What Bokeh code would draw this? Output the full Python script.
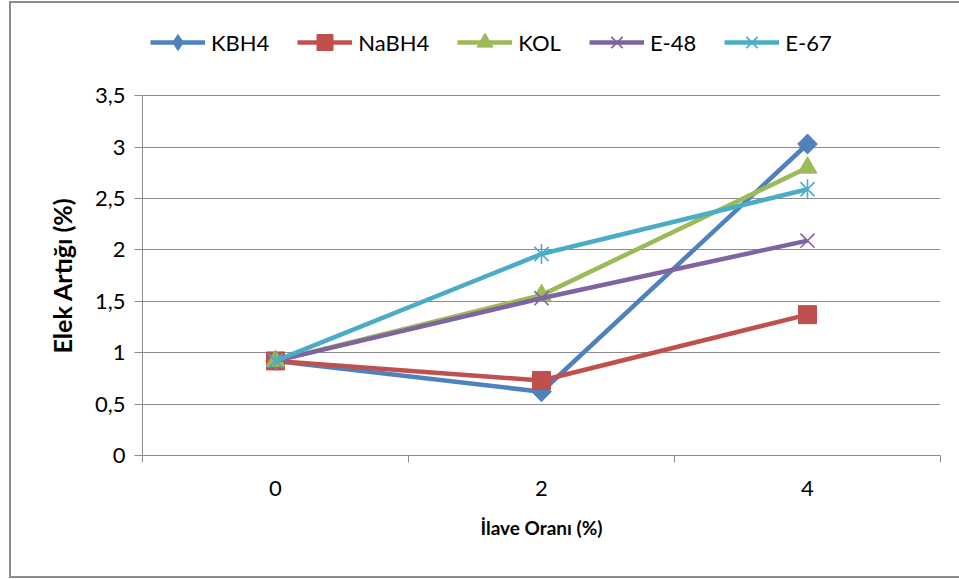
import math

from bokeh.embed import file_html
from bokeh.resources import INLINE
from bokeh.plotting import figure
from bokeh.models import Range1d, FixedTicker, Legend, LegendItem, Title

# Additive ratio categories (x axis) and sieve residue values (%)
categories = ["0", "2", "4"]
kbh4 = [0.92, 0.62, 3.03]
nabh4 = [0.92, 0.73, 1.37]
kol = [0.92, 1.56, 2.80]
e48 = [0.92, 1.53, 2.09]
e67 = [0.92, 1.96, 2.59]

y_ticks = [0, 0.5, 1, 1.5, 2, 2.5, 3, 3.5]
y_tick_labels = ["0", "0,5", "1", "1,5", "2", "2,5", "3", "3,5"]

FONT = "Lato"
GRID = "#8c8c8c"

xs = [i + 0.5 for i in range(len(categories))]

# the frame reaches up into the legend strip; the value axis stops at 3.5
p = figure(width=959, height=579, output_backend="svg", toolbar_location=None,
           x_range=Range1d(0, len(categories)), y_range=Range1d(0, 4.28),
           min_border_left=142, min_border_right=19, min_border_top=15,
           min_border_bottom=124)
p.outline_line_color = None
p.background_fill_color = "white"
p.border_fill_color = None

# outer chart border, painted behind the transparent canvas border area
line = "linear-gradient(#8c8c8c, #8c8c8c)"
p.styles = {
    "background": (f"{line} 9px 1px / 2px 577px no-repeat, "
                   f"{line} 9px 1px / 960px 2px no-repeat, "
                   f"{line} 9px 576px / 960px 2px no-repeat, white"),
}

# x axis: labels at category centres, ticks at category boundaries
p.xaxis.ticker = FixedTicker(ticks=xs, minor_ticks=list(range(len(categories) + 1)))
p.xaxis.major_label_overrides = {x: c for x, c in zip(xs, categories)}
p.xaxis.major_tick_line_color = None
p.xaxis.major_tick_out = 7
p.xaxis.minor_tick_out = 7
p.xaxis.minor_tick_in = 0
p.xaxis.minor_tick_line_color = GRID
p.xaxis.major_label_standoff = 18
p.xaxis.axis_label = "İlave Oranı (%)"
p.xaxis.axis_label_standoff = 17
p.xaxis.axis_label_text_font = FONT
p.xaxis.axis_label_text_font_size = "19px"
p.xaxis.axis_label_text_font_style = "bold"
p.xaxis.axis_label_text_color = "black"

p.yaxis.ticker = FixedTicker(ticks=y_ticks)
p.yaxis.bounds = (0, 3.5)
p.yaxis.major_label_overrides = {t: l for t, l in zip(y_ticks, y_tick_labels)}
p.yaxis.major_tick_out = 8
p.yaxis.major_tick_in = 0
p.yaxis.minor_tick_line_color = None
p.yaxis.major_tick_line_color = GRID
p.yaxis.major_label_standoff = 9

for ax in (p.xaxis, p.yaxis):
    ax.axis_line_color = GRID
    ax.major_label_text_font = FONT
    ax.major_label_text_font_size = "22px"
    ax.major_label_text_color = "black"

# value-axis title, set against the 0..3.5 span rather than the whole frame
p.add_layout(Title(text="Elek Artığı (%)", align="left", offset=102,
                   text_font=FONT, text_font_size="25px", text_font_style="bold",
                   text_color="black", standoff=29), "left")

p.xgrid.grid_line_color = None
p.ygrid.ticker = FixedTicker(ticks=y_ticks)
p.ygrid.grid_line_color = GRID
p.ygrid.grid_line_width = 1

LW = 4.5
items = []

r1 = p.line(xs, kbh4, color="#4F81BD", line_width=LW)
k1 = p.scatter(xs, kbh4, marker="diamond", size=19,
               fill_color="#4F81BD", line_color="#4F81BD")
m1 = p.scatter(xs, kbh4, marker="square", angle=math.pi / 4, size=14,
               fill_color="#4F81BD", line_color="#4F81BD")
items.append(LegendItem(label="KBH4", renderers=[r1, k1]))

r2 = p.line(xs, nabh4, color="#C0504D", line_width=LW)
m2 = p.scatter(xs, nabh4, marker="square", size=18,
               fill_color="#C0504D", line_color="#C0504D")
items.append(LegendItem(label="NaBH4", renderers=[r2, m2]))

r3 = p.line(xs, kol, color="#9BBB59", line_width=LW)
m3 = p.scatter(xs, kol, marker="triangle", size=19,
               fill_color="#9BBB59", line_color="#9BBB59")
items.append(LegendItem(label="KOL", renderers=[r3, m3]))

r4 = p.line(xs, e48, color="#8064A2", line_width=LW)
m4 = p.scatter(xs, e48, marker="x", size=20, fill_color=None,
               line_color="#8064A2", line_width=1.6)
items.append(LegendItem(label="E-48", renderers=[r4, m4]))

r5 = p.line(xs, e67, color="#4BACC6", line_width=LW)
m5a = p.scatter(xs, e67, marker="x", size=20, fill_color=None,
                line_color="#4BACC6", line_width=1.6)
m5b = p.scatter(xs, e67, marker="dash", angle=math.pi / 2, size=20,
                fill_color=None, line_color="#4BACC6", line_width=1.6)
items.append(LegendItem(label="E-67", renderers=[r5, m5a, m5b]))

legend = Legend(items=items, orientation="horizontal", location=(8, 393),
                glyph_width=55, glyph_height=40, label_standoff=6, spacing=28,
                padding=0, margin=0, label_text_font=FONT,
                label_text_font_size="22px", label_text_color="black",
                border_line_color=None, background_fill_alpha=0)
p.add_layout(legend, "center")

open("out.html", "w").write(file_html(p, INLINE))
